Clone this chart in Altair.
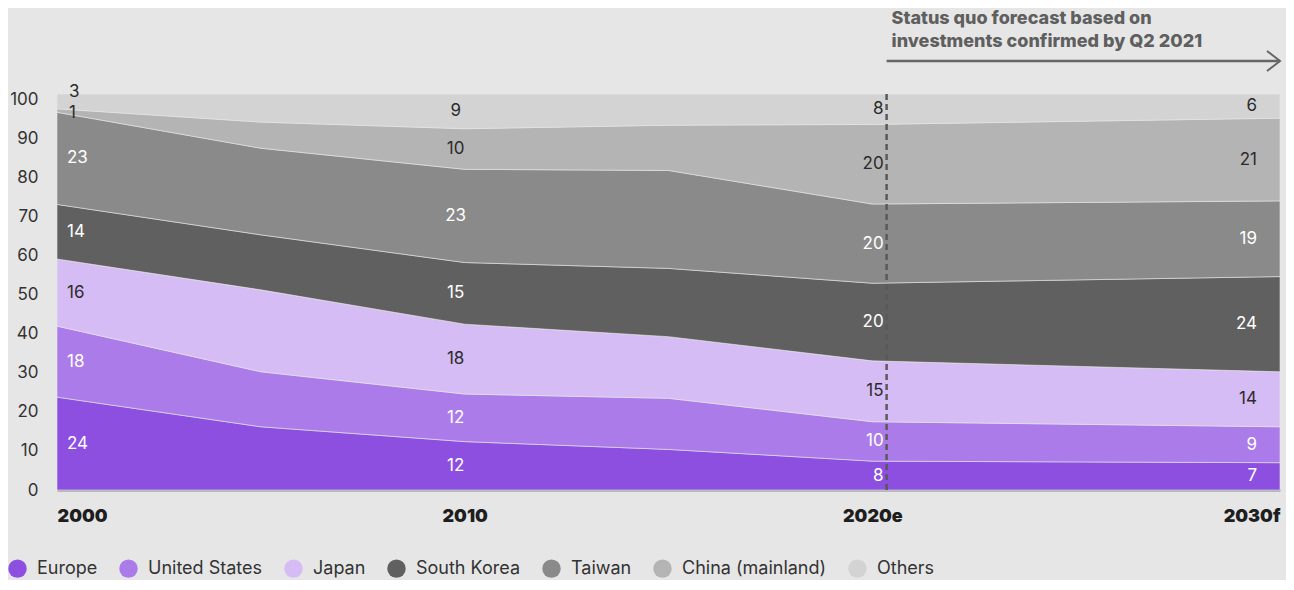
import altair as alt
import pandas as pd

# ---- data ----
years = [2000, 2005, 2010, 2015, 2020, 2030]
regions = ["Europe", "United States", "Japan", "South Korea", "Taiwan", "China (mainland)", "Others"]
colors = ["#8c4fe0", "#ab7ce9", "#d6bcf5", "#606060", "#8a8a8a", "#b4b4b4", "#d3d3d3"]
text_colors = ["#ffffff", "#ffffff", "#2b2b2b", "#ffffff", "#ffffff", "#2b2b2b", "#2b2b2b"]

# capacity share (%) per region, one value per year
europe = [23.8, 16.2, 12.4, 10.4, 7.4, 7.0]
united_states = [18.2, 14.1, 12.2, 13.1, 10.1, 9.2]
japan = [17.2, 21.0, 17.9, 15.8, 15.6, 14.1]
south_korea = [14.0, 14.1, 15.8, 17.5, 19.9, 24.4]
taiwan = [23.6, 22.2, 23.9, 25.1, 20.3, 19.4]
china = [0.9, 6.7, 10.4, 11.6, 20.4, 21.2]
others = [3.8, 7.2, 8.9, 8.0, 7.8, 6.2]
series = [europe, united_states, japan, south_korea, taiwan, china, others]

# printed labels at the labelled years
label_years = [2000, 2010, 2020, 2030]
labels_2000 = ["24", "18", "16", "14", "23", "1", "3"]
labels_2010 = ["12", "12", "18", "15", "23", "10", "9"]
labels_2020 = ["8", "10", "15", "20", "20", "20", "8"]
labels_2030 = ["7", "9", "14", "24", "19", "21", "6"]
label_sets = [labels_2000, labels_2010, labels_2020, labels_2030]

x_tick_values = [2000, 2010, 2020, 2030]
x_tick_labels = ["2000", "2010", "2020e", "2030f"]
y_tick_values = [0, 10, 20, 30, 40, 50, 60, 70, 80, 90, 100]
forecast_start = 2020.35
y_top = 101.5

annotation_lines = ["Status quo forecast based on", "investments confirmed by Q2 2021"]

# ---- tables ----
rows = []
for r_i, (reg, vals) in enumerate(zip(regions, series)):
    for y, v in zip(years, vals):
        rows.append({"year": y, "region": reg, "share": v, "rank": r_i})
df = pd.DataFrame(rows)

lab_rows = []
for yr, labs in zip(label_years, label_sets):
    yi = years.index(yr)
    base = 0.0
    for r_i, reg in enumerate(regions):
        v = series[r_i][yi]
        lab_rows.append({"year": yr, "region": reg, "mid": base + v / 2, "label": labs[r_i],
                         "tcolor": text_colors[r_i], "rank": r_i})
        base += v
lab = pd.DataFrame(lab_rows)

FONT = "Inter"
NUM_SIZE = 17

x_scale = alt.Scale(domain=[2000, 2030], nice=False, zero=False)
y_scale = alt.Scale(domain=[0, y_top], nice=False)

label_expr = "{" + ",".join(f"'{v}':'{t}'" for v, t in zip(x_tick_values, x_tick_labels)) + "}[datum.value]"

X_AXIS = alt.Axis(values=x_tick_values, labelExpr=label_expr, labelFlush=True,
                  labelFontWeight=900, labelFontSize=18, labelColor="#1e1e1e",
                  labelFont=FONT, labelPadding=17, ticks=False, grid=False,
                  labelOverlap=False, domainColor="#a9a9a9", domainWidth=2.5)
Y_AXIS = alt.Axis(values=y_tick_values, labelFontSize=NUM_SIZE, labelColor="#333333",
                  labelFont=FONT, labelPadding=19, ticks=False, domain=False, grid=False,
                  labelOverlap=False, labelBound=False)


def xq(field):
    return alt.X(field, scale=x_scale, axis=X_AXIS, title=None)


def yq(field, **kw):
    return alt.Y(field, scale=y_scale, axis=Y_AXIS, title=None, **kw)


area = alt.Chart(df).mark_area(stroke="#e8e8e8", strokeWidth=0.6, opacity=1).encode(
    x=xq("year:Q"),
    y=yq("share:Q", stack="zero"),
    color=alt.Color("region:N", scale=alt.Scale(domain=regions, range=colors), sort=regions,
                    legend=alt.Legend(title=None, orient="none", direction="horizontal",
                                      legendX=-49, legendY=465, symbolType="circle", symbolSize=340,
                                      symbolStrokeWidth=0, symbolOpacity=1, labelFontSize=18,
                                      labelFont=FONT, labelColor="#333333", labelOffset=10,
                                      columnPadding=21, columns=7)),
    order=alt.Order("rank:Q", sort="ascending"),
)


def text_layer(cond, align, dx, dy=0, xfield="year:Q"):
    return alt.Chart(lab).transform_calculate(fx=str(forecast_start)).transform_filter(cond).mark_text(
        align=align, baseline="middle", dx=dx, dy=dy, fontSize=NUM_SIZE, font=FONT
    ).encode(
        x=xq(xfield),
        y=yq("mid:Q"),
        text="label:N",
        color=alt.Color("tcolor:N", scale=None),
    )


t2000 = text_layer((alt.datum.year == 2000) & (alt.datum.rank < 5), "left", 10)
t2000_china = text_layer((alt.datum.year == 2000) & (alt.datum.rank == 5), "left", 12, 2)
t2000_others = text_layer((alt.datum.year == 2000) & (alt.datum.rank == 6), "left", 12, -9)
t2010 = text_layer(alt.datum.year == 2010, "center", -9)
t2020 = text_layer(alt.datum.year == 2020, "right", -3, 0, "fx:Q")
t2030 = text_layer(alt.datum.year == 2030, "right", -23)

dash_df = pd.DataFrame({"x": [forecast_start], "ytop": [y_top], "ybot": [0]})
dash = alt.Chart(dash_df).mark_rule(
    color="#5a5a5a", strokeWidth=2.5, strokeDash=[6, 4]
).encode(x=xq("x:Q"), y=yq("ytop:Q"), y2="ybot:Q")

arrow_df = pd.DataFrame({"x": [forecast_start], "x2": [2030]})
arrow_line = alt.Chart(arrow_df).mark_rule(color="#666666", strokeWidth=2.5).encode(
    x=xq("x:Q"), x2="x2:Q", y=alt.value(-33)
)
arrow_head = alt.Chart(arrow_df).mark_point(
    shape="M-1.3,-1L0,0L-1.3,1", filled=False, stroke="#666666", strokeWidth=2, size=400, opacity=1
).encode(x=xq("x2:Q"), y=alt.value(-33))

ann_df = pd.DataFrame({"x": [forecast_start], "text": [annotation_lines]})
annotation = alt.Chart(ann_df).mark_text(
    align="left", baseline="alphabetic", dx=5, fontSize=18, fontWeight=800, font=FONT,
    color="#5f5f5f", lineHeight=23
).encode(x=xq("x:Q"), y=alt.value(-70), text="text")

chart = alt.layer(
    area, t2000, t2000_china, t2000_others, t2010, t2020, t2030, dash, arrow_line, arrow_head, annotation
).properties(
    width=1223, height=396,
    background="#e6e6e6",
    autosize=alt.AutoSizeParams(type="none"),
    padding={"left": 49, "top": 86, "right": 6, "bottom": 90},
).configure_view(stroke=None).configure_axis(labelOverlap=False)

chart.save("out.html", embed_options={"renderer": "svg", "actions": False})
